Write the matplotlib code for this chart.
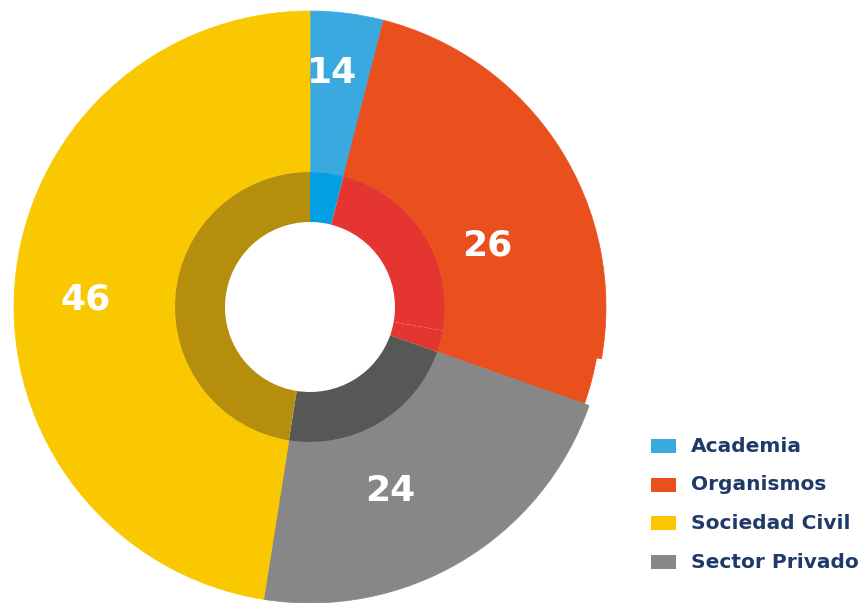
import matplotlib
matplotlib.use("Agg")
import matplotlib.pyplot as plt
import numpy as np

# data
categories = ['Academia', 'Organismos', 'Sociedad Civil', 'Sector Privado']
# wedge shares (clockwise from top): Academia, Organismos (two parts), Sector Privado, Sociedad Civil
shares = [4.0, 23.8, 2.6, 22.1, 47.5]
labels = ['14', '26', '24', '46']

outer_colors = ['#3aa9e0', '#e9501e', '#e9501e', '#878787', '#fac800']
inner_colors = ['#00a0e3', '#e53530', '#e53530', '#575756', '#b58e0d']
legend_colors = ['#3aa9e0', '#e9501e', '#fac800', '#878787']

fig = plt.figure(figsize=(8.58, 6.03), dpi=100)
ax = fig.add_axes([0, 0, 1, 1])

cx, cy = 310, 603 - 307
r_out = 296
r_mid = 135
r_hole = 85

# outer ring, the small second part of Organismos is a touch smaller
radii = [r_out, r_out, r_out - 5, r_out, r_out]
start = 90.0
total = sum(shares)
for s, col, rr in zip(shares, outer_colors, radii):
    wedges, _ = ax.pie([s, total - s], colors=[col, 'none'], radius=rr,
                       center=(cx, cy), startangle=start, counterclock=False,
                       wedgeprops=dict(width=rr - r_mid, linewidth=0))
    # thin edge of the same colour closes the seams between wedges
    wedges[0].set_edgecolor(col)
    wedges[0].set_linewidth(0.5)
    start -= s / total * 360

ax.pie(shares, colors=inner_colors, radius=r_mid, center=(cx, cy),
       startangle=90, counterclock=False,
       wedgeprops=dict(width=r_mid - r_hole, linewidth=0))

# value labels (angle from top clockwise, distance from centre)
label_ang = [5.4, 70.8, 156.6, 272.0]
label_rad = [235, 188, 201, 225]
for lab, a, d in zip(labels, label_ang, label_rad):
    t = np.deg2rad(a)
    ax.text(cx + d * np.sin(t), cy + d * np.cos(t), lab, color='white',
            fontsize=26, fontweight='bold', ha='center', va='center')

ax.set_xlim(0, 858)
ax.set_ylim(0, 603)
ax.set_aspect('equal')
ax.axis('off')

# legend
for i, (name, col) in enumerate(zip(categories, legend_colors)):
    y = 603 - (446 + i * 38.7)
    ax.add_patch(plt.Rectangle((651, y - 7), 25, 14, color=col, lw=0))
    ax.text(691, y, name, color='#1f3a68', fontsize=14.5, fontweight='bold',
            ha='left', va='center')

fig.savefig('out.png', dpi=100)
